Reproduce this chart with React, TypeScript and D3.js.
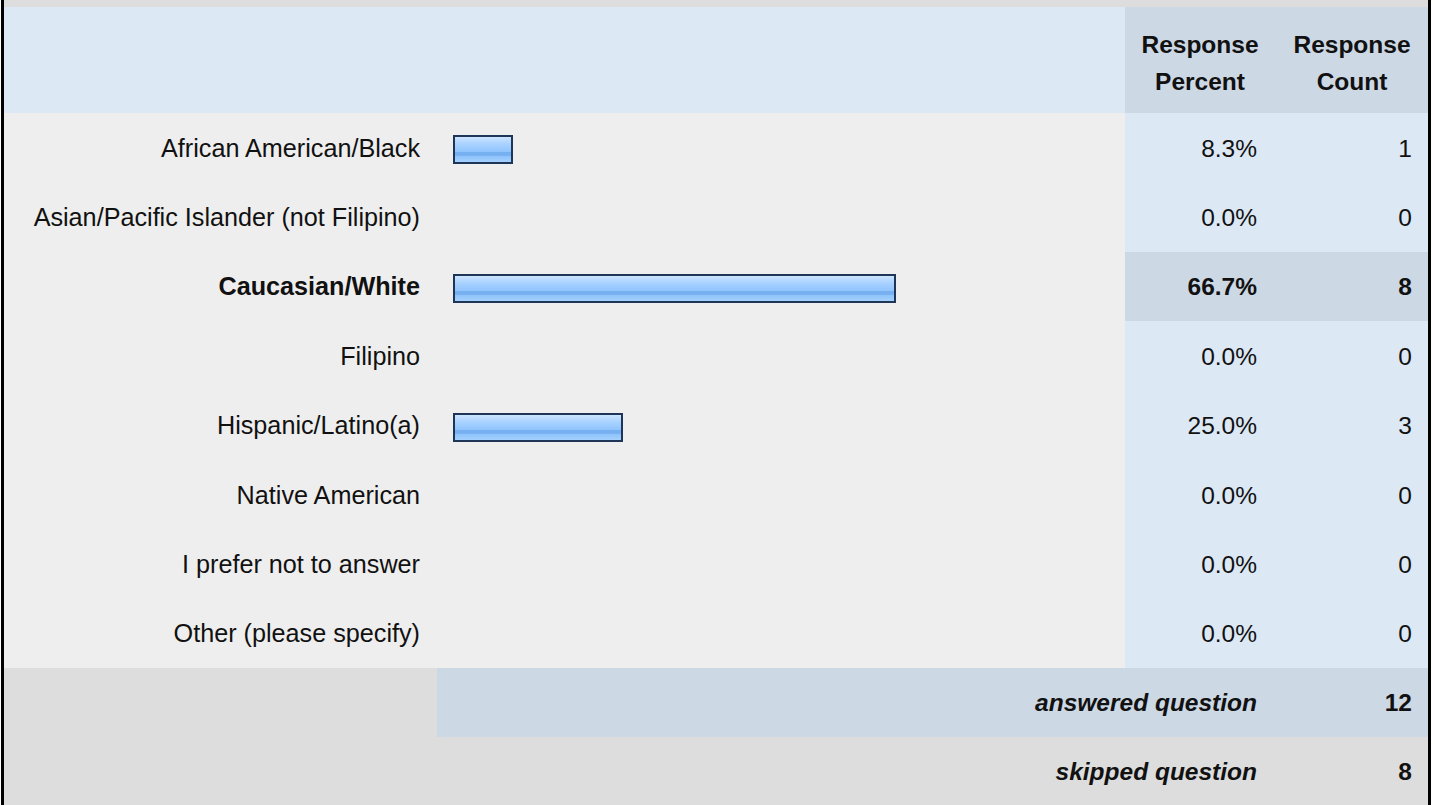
import React from "react";
import * as d3 from "d3";

const categories = [
  "African American/Black",
  "Asian/Pacific Islander (not Filipino)",
  "Caucasian/White",
  "Filipino",
  "Hispanic/Latino(a)",
  "Native American",
  "I prefer not to answer",
  "Other (please specify)",
];
const percents = [8.3, 0.0, 66.7, 0.0, 25.0, 0.0, 0.0, 0.0];
const counts = [1, 0, 8, 0, 3, 0, 0, 0];
const headerPercent = ["Response", "Percent"];
const headerCount = ["Response", "Count"];
const answeredLabel = "answered question";
const skippedLabel = "skipped question";
const answeredCount = 12;
const skippedCount = 8;

const W = 1435;
const H = 805;
const FONT = "'Liberation Sans', Arial, Helvetica, sans-serif";
const FS = 24.5;
const FS_LABEL = 25.2;

export default function App() {
  const left = 4;
  const right = 1428;
  const headerTop = 7;
  const headerBottom = 113;
  const rowsBottom = 668;
  const answeredBottom = 737;
  const colPct = 1125;
  const labelRight = 420;
  const barLeft = 453;
  const pctRight = 1257;
  const countRight = 1412;

  const y = d3
    .scaleBand<number>()
    .domain(d3.range(categories.length))
    .range([headerBottom, rowsBottom])
    .paddingInner(0)
    .paddingOuter(0);
  const x = d3.scaleLinear().domain([0, 100]).range([0, 654.7]);
  const maxCount = d3.max(counts) as number;
  const barH = 29;

  return (
    <>
      <style>{`body{margin:0}`}</style>
      <svg width={W} height={H} style={{ display: "block" }} fontFamily={FONT} shapeRendering="crispEdges">
        <defs>
          <linearGradient id="barGrad" x1="0" y1="0" x2="0" y2="1">
            <stop offset="0" stopColor="#d2e7ff" />
            <stop offset="0.15" stopColor="#bcdcff" />
            <stop offset="0.3" stopColor="#a9d2ff" />
            <stop offset="0.5" stopColor="#96c8ff" />
            <stop offset="0.58" stopColor="#93c5fd" />
            <stop offset="0.6" stopColor="#77b0f0" />
            <stop offset="0.72" stopColor="#78b1f1" />
            <stop offset="0.74" stopColor="#8ec3fb" />
            <stop offset="1" stopColor="#a8d2ff" />
          </linearGradient>
        </defs>
        <rect x={0} y={0} width={W} height={H} fill="#ffffff" />
        {/* top band */}
        <rect x={left} y={0} width={right - left} height={headerTop} fill="#dddddd" />
        {/* header */}
        <rect x={left} y={headerTop} width={right - left} height={headerBottom - headerTop} fill="#dde8f5" />
        <rect x={colPct} y={headerTop} width={right - colPct} height={headerBottom - headerTop} fill="#cdd8e5" />
        {headerPercent.map((t, i) => (
          <text key={"hp" + i} x={1200} y={52.7 + i * 37.3} textAnchor="middle" fontWeight="bold" fontSize={FS} fill="#111">
            {t}
          </text>
        ))}
        {headerCount.map((t, i) => (
          <text key={"hc" + i} x={1352} y={52.7 + i * 37.3} textAnchor="middle" fontWeight="bold" fontSize={FS} fill="#111">
            {t}
          </text>
        ))}
        {/* row backgrounds */}
        <rect x={left} y={headerBottom} width={colPct - left} height={rowsBottom - headerBottom} fill="#eeeeee" />
        <rect x={colPct} y={headerBottom} width={right - colPct} height={rowsBottom - headerBottom} fill="#dde8f5" />
        {/* rows */}
        {categories.map((c, i) => {
          const top = y(i) as number;
          const bw = y.bandwidth();
          const cy = top + bw / 2;
          const hi = counts[i] === maxCount;
          return (
            <g key={c}>
              {hi && (
                <rect x={colPct} y={Math.round(top)} width={right - colPct} height={Math.round(top + bw) - Math.round(top)} fill="#cdd8e5" />
              )}
              <text x={labelRight} y={cy + 9} textAnchor="end" fontSize={FS_LABEL} fontWeight={hi ? "bold" : "normal"} fill="#111" shapeRendering="auto">
                {c}
              </text>
              {counts[i] > 0 && (
                <rect
                  x={barLeft + 1}
                  y={Math.round(cy + 2 - barH / 2) + 1}
                  width={Math.round(x(percents[i]) + 4)}
                  height={barH - 2}
                  fill="url(#barGrad)"
                  stroke="#1e3557"
                  strokeWidth={2}
                />
              )}
              <text x={pctRight} y={cy + 9} textAnchor="end" fontSize={FS} fontWeight={hi ? "bold" : "normal"} fill="#111">
                {percents[i].toFixed(1) + "%"}
              </text>
              <text x={countRight} y={cy + 9} textAnchor="end" fontSize={FS} fontWeight={hi ? "bold" : "normal"} fill="#111">
                {counts[i]}
              </text>
            </g>
          );
        })}
        {/* footer */}
        <rect x={left} y={rowsBottom} width={right - left} height={H - rowsBottom} fill="#dddddd" />
        <rect x={437} y={rowsBottom} width={right - 437} height={answeredBottom - rowsBottom} fill="#cdd8e5" />
        <text x={pctRight} y={(rowsBottom + answeredBottom) / 2 + 8.5} textAnchor="end" fontSize={FS} fontWeight="bold" fontStyle="italic" fill="#111">
          {answeredLabel}
        </text>
        <text x={countRight} y={(rowsBottom + answeredBottom) / 2 + 8.5} textAnchor="end" fontSize={FS} fontWeight="bold" fill="#111">
          {answeredCount}
        </text>
        <text x={pctRight} y={(answeredBottom + H) / 2 + 8.5} textAnchor="end" fontSize={FS} fontWeight="bold" fontStyle="italic" fill="#111">
          {skippedLabel}
        </text>
        <text x={countRight} y={(answeredBottom + H) / 2 + 8.5} textAnchor="end" fontSize={FS} fontWeight="bold" fill="#111">
          {skippedCount}
        </text>
        {/* borders */}
        <rect x={1} y={0} width={3} height={H} fill="#000" />
        <rect x={1428} y={0} width={3} height={H} fill="#000" />
      </svg>
    </>
  );
}
